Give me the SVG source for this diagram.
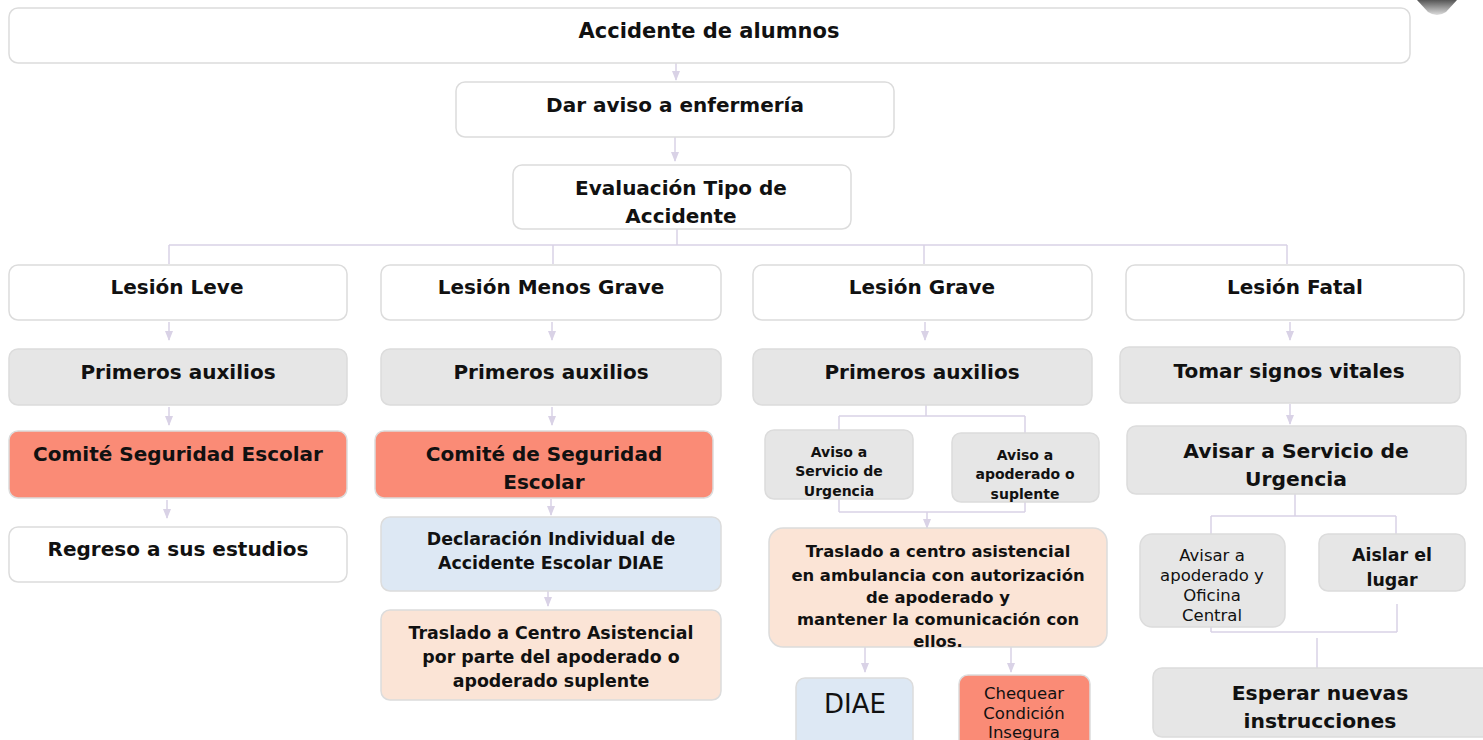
<svg xmlns="http://www.w3.org/2000/svg" width="1483" height="740" viewBox="0 0 1483 740">
<defs>
<style>
.b{stroke:#dcdcdc;stroke-width:1.5}
.w{fill:#ffffff}
.g{fill:#e6e6e6}
.s{fill:#fa8b76}
.bl{fill:#dde8f4}
.pe{fill:#fbe4d6}
.c{stroke:#d9d2e6;stroke-width:1.5;fill:none}
text{font-family:"DejaVu Sans",sans-serif;font-weight:bold;fill:#111;text-anchor:middle}
.t20{font-size:20px}
.t21{font-size:21px}
.t22{font-size:20.3px}
.t17{font-size:17.4px}
.t16{font-size:16.4px}
.t15{font-size:14px}
.n{font-weight:normal;font-size:16.5px}
</style>
<marker id="ah" markerWidth="10" markerHeight="8" refX="9" refY="4" orient="auto" markerUnits="userSpaceOnUse">
<path d="M0,0 L10,4 L0,8 Z" fill="#d9d2e6"/>
</marker>
<linearGradient id="cg" x1="0" y1="0" x2="0" y2="1">
<stop offset="0" stop-color="#555"/>
<stop offset="1" stop-color="#ddd"/>
</linearGradient>
</defs>
<rect width="1483" height="740" fill="#ffffff"/>
<path d="M1417,0 L1457,0 L1446,12 Q1437,18 1428,12 Z" fill="url(#cg)"/>

<g id="connectors">
<line class="c" x1="676" y1="63" x2="676" y2="80" marker-end="url(#ah)"/>
<line class="c" x1="675" y1="137" x2="675" y2="161" marker-end="url(#ah)"/>
<path class="c" d="M677,229 V245 M169,245 H1287 M169,245 V264 M553,245 V264 M924,245 V264 M1287,245 V264"/>
<line class="c" x1="169" y1="322" x2="169" y2="340" marker-end="url(#ah)"/>
<line class="c" x1="552" y1="322" x2="552" y2="340" marker-end="url(#ah)"/>
<line class="c" x1="925" y1="322" x2="925" y2="340" marker-end="url(#ah)"/>
<line class="c" x1="1290" y1="322" x2="1290" y2="340" marker-end="url(#ah)"/>
<line class="c" x1="169" y1="407" x2="169" y2="425" marker-end="url(#ah)"/>
<line class="c" x1="552" y1="407" x2="552" y2="425" marker-end="url(#ah)"/>
<line class="c" x1="167" y1="500" x2="167" y2="518" marker-end="url(#ah)"/>
<line class="c" x1="551" y1="499" x2="551" y2="515" marker-end="url(#ah)"/>
<line class="c" x1="548" y1="591" x2="548" y2="606" marker-end="url(#ah)"/>
<path class="c" d="M926,405 V416 M839,416 H1025 M839,416 V430 M1025,416 V433"/>
<path class="c" d="M839,499 V512 M1025,502 V512 M839,512 H1025"/>
<line class="c" x1="927" y1="512" x2="927" y2="528" marker-end="url(#ah)"/>
<line class="c" x1="865" y1="632" x2="865" y2="672" marker-end="url(#ah)"/>
<line class="c" x1="1011" y1="642" x2="1011" y2="672" marker-end="url(#ah)"/>
<line class="c" x1="1290" y1="404" x2="1290" y2="424" marker-end="url(#ah)"/>
<path class="c" d="M1295,494 V516 M1211,516 H1396 M1211,516 V534 M1396,516 V534"/>
<path class="c" d="M1211,620 V632 M1397,604 V632 M1211,632 H1397 M1317,638 V668"/>
</g>

<g id="n-accidente"><rect class="b w" x="9" y="8" width="1401" height="55" rx="9"/><text class="t21" x="709" y="38">Accidente de alumnos</text></g>
<g id="n-aviso"><rect class="b w" x="456" y="82" width="438" height="55" rx="9"/><text class="t20" x="675" y="112">Dar aviso a enfermería</text></g>
<g id="n-evaluacion"><rect class="b w" x="513" y="165" width="338" height="64" rx="9"/><text class="t20" x="681" y="195">Evaluación Tipo de</text><text class="t20" x="681" y="223">Accidente</text></g>

<g id="n-leve"><rect class="b w" x="9" y="265" width="338" height="55" rx="9"/><text class="t20" x="177" y="294">Lesión Leve</text></g>
<g id="n-menos"><rect class="b w" x="381" y="265" width="340" height="55" rx="9"/><text class="t20" x="551" y="294">Lesión Menos Grave</text></g>
<g id="n-grave"><rect class="b w" x="753" y="265" width="339" height="55" rx="9"/><text class="t20" x="922" y="294">Lesión Grave</text></g>
<g id="n-fatal"><rect class="b w" x="1126" y="265" width="338" height="55" rx="9"/><text class="t20" x="1295" y="294">Lesión Fatal</text></g>

<g id="n-pa1"><rect class="b g" x="9" y="349" width="338" height="56" rx="9"/><text class="t20" x="178" y="379">Primeros auxilios</text></g>
<g id="n-pa2"><rect class="b g" x="381" y="349" width="340" height="56" rx="9"/><text class="t20" x="551" y="379">Primeros auxilios</text></g>
<g id="n-pa3"><rect class="b g" x="753" y="349" width="339" height="56" rx="9"/><text class="t20" x="922" y="379">Primeros auxilios</text></g>
<g id="n-signos"><rect class="b g" x="1120" y="347" width="340" height="56" rx="9"/><text class="t20" x="1289" y="378">Tomar signos vitales</text></g>

<g id="n-comite1"><rect class="b s" x="9" y="431" width="338" height="67" rx="9"/><text class="t20" x="178" y="461">Comité Seguridad Escolar</text></g>
<g id="n-comite2"><rect class="b s" x="375" y="431" width="338" height="67" rx="9"/><text class="t20" x="544" y="461">Comité de Seguridad</text><text class="t20" x="544" y="489">Escolar</text></g>
<g id="n-regreso"><rect class="b w" x="9" y="527" width="338" height="55" rx="9"/><text class="t20" x="178" y="556">Regreso a sus estudios</text></g>
<g id="n-declaracion"><rect class="b bl" x="381" y="517" width="340" height="74" rx="9"/><text class="t17" x="551" y="545">Declaración Individual de</text><text class="t17" x="551" y="569">Accidente Escolar DIAE</text></g>
<g id="n-traslado1"><rect class="b pe" x="381" y="610" width="340" height="90" rx="9"/><text class="t17" x="551" y="639">Traslado a Centro Asistencial</text><text class="t17" x="551" y="663">por parte del apoderado o</text><text class="t17" x="551" y="687">apoderado suplente</text></g>

<g id="n-avserv"><rect class="b g" x="765" y="430" width="148" height="69" rx="9"/><text class="t15" x="839" y="457">Aviso a</text><text class="t15" x="839" y="476">Servicio de</text><text class="t15" x="839" y="496">Urgencia</text></g>
<g id="n-avapod"><rect class="b g" x="952" y="433" width="147" height="69" rx="9"/><text class="t15" x="1025" y="460">Aviso a</text><text class="t15" x="1025" y="479">apoderado o</text><text class="t15" x="1025" y="499">suplente</text></g>
<g id="n-traslado2"><rect class="b pe" x="769" y="528" width="338" height="119" rx="14"/><text class="t16" x="938" y="557">Traslado a centro asistencial</text><text class="t16" x="938" y="581">en ambulancia con autorización</text><text class="t16" x="938" y="603">de apoderado y</text><text class="t16" x="938" y="625">mantener la comunicación con</text><text class="t16" x="938" y="647">ellos.</text></g>
<g id="n-diae"><rect class="b bl" x="796" y="678" width="117" height="80" rx="9"/><text x="855" y="713" style="font-size:26px;font-weight:normal">DIAE</text></g>
<g id="n-chequear"><rect class="b s" x="959" y="675" width="131" height="80" rx="9"/><text class="n" x="1024" y="699">Chequear</text><text class="n" x="1024" y="719">Condición</text><text class="n" x="1024" y="738">Insegura</text></g>

<g id="n-avisurg"><rect class="b g" x="1127" y="426" width="339" height="68" rx="9"/><text class="t22" x="1296" y="458">Avisar a Servicio de</text><text class="t22" x="1296" y="486">Urgencia</text></g>
<g id="n-avapof"><rect class="b g" x="1140" y="534" width="145" height="93" rx="12"/><text class="n" x="1212" y="561">Avisar a</text><text class="n" x="1212" y="581">apoderado y</text><text class="n" x="1212" y="601">Oficina</text><text class="n" x="1212" y="621">Central</text></g>
<g id="n-aislar"><rect class="b g" x="1319" y="534" width="146" height="57" rx="9"/><text class="t17" x="1392" y="561">Aislar el</text><text class="t17" x="1392" y="586">lugar</text></g>
<g id="n-esperar"><rect class="b g" x="1153" y="668" width="340" height="69" rx="9"/><text class="t22" x="1320" y="700">Esperar nuevas</text><text class="t22" x="1320" y="728">instrucciones</text></g>
</svg>
